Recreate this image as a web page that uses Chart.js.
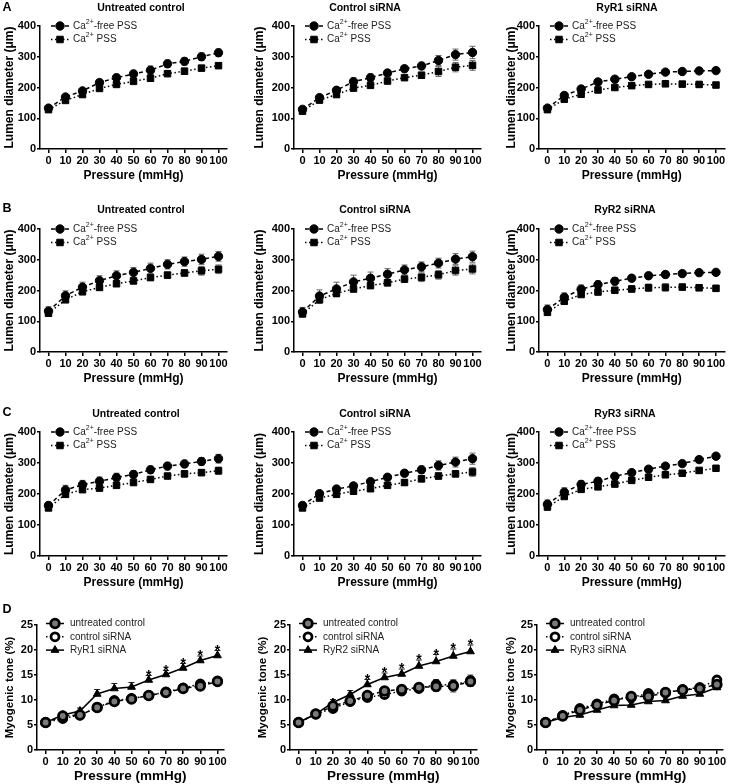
<!DOCTYPE html>
<html>
<head>
<meta charset="utf-8">
<script src="https://cdn.jsdelivr.net/npm/chart.js@4.4.1/dist/chart.umd.min.js"></script>
<style>
  body { margin: 0; background: #fff; }
  #fig { position: relative; width: 730px; height: 784px; overflow: hidden; font-family: "Liberation Sans", Arial, sans-serif; }
  #fig canvas { position: absolute; }
  .lbl { position: absolute; font-weight: bold; color: #000; white-space: nowrap; transform: translate(-50%, -50%); line-height: 1; }
</style>
</head>
<body>
<div id="fig"></div>
<script>
// x values and ticks
const pressure = [0, 10, 20, 30, 40, 50, 60, 70, 80, 90, 100];
const diameterTicks = [0, 100, 200, 300, 400];
const toneTicks = [0, 5, 10, 15, 20, 25];

// A: lumen diameter (um), Ca2+-free vs Ca2+ PSS
const aUntreatedFree = [133, 169, 189, 216, 232, 244, 256, 277, 285, 300, 313];
const aUntreatedFreeErr = [8, 8, 8, 10, 10, 12, 14, 12, 12, 12, 12];
const aUntreatedCa = [128, 158, 177, 197, 210, 220, 230, 245, 253, 263, 271];
const aUntreatedCaErr = [5, 5, 6, 6, 6, 6, 6, 8, 10, 8, 8];
const aControlFree = [129, 167, 191, 219, 232, 247, 261, 270, 288, 307, 314];
const aControlFreeErr = [8, 10, 10, 12, 12, 10, 10, 12, 16, 18, 20];
const aControlCa = [123, 159, 177, 198, 207, 221, 232, 240, 252, 266, 272];
const aControlCaErr = [6, 6, 6, 6, 6, 6, 6, 8, 16, 15, 16];
const aRyr1Free = [133, 174, 195, 218, 227, 235, 243, 250, 252, 254, 255];
const aRyr1FreeErr = [8, 10, 8, 6, 6, 6, 6, 6, 6, 8, 8];
const aRyr1Ca = [128, 162, 178, 192, 200, 206, 210, 212, 211, 210, 208];
const aRyr1CaErr = [6, 8, 6, 6, 6, 6, 6, 8, 8, 8, 8];

// B
const bUntreatedFree = [133, 183, 211, 232, 248, 259, 272, 285, 294, 301, 311];
const bUntreatedFreeErr = [14, 16, 16, 16, 16, 16, 17, 15, 15, 17, 16];
const bUntreatedCa = [126, 170, 196, 210, 222, 231, 242, 250, 257, 264, 269];
const bUntreatedCaErr = [8, 10, 10, 8, 8, 8, 8, 10, 10, 14, 14];
const bControlFree = [130, 182, 205, 228, 240, 253, 267, 277, 289, 302, 310];
const bControlFreeErr = [15, 20, 22, 22, 20, 18, 16, 16, 16, 18, 18];
const bControlCa = [124, 170, 191, 205, 216, 225, 237, 243, 251, 265, 270];
const bControlCaErr = [10, 12, 12, 10, 10, 10, 10, 14, 14, 15, 16];
const bRyr2Free = [138, 178, 204, 219, 230, 240, 248, 252, 255, 258, 259];
const bRyr2FreeErr = [15, 14, 14, 12, 12, 10, 10, 10, 10, 10, 10];
const bRyr2Ca = [129, 165, 187, 195, 201, 205, 209, 210, 211, 209, 207];
const bRyr2CaErr = [10, 10, 8, 8, 8, 10, 12, 12, 10, 10, 10];

// C
const cUntreatedFree = [163, 213, 230, 241, 253, 263, 278, 290, 297, 305, 314];
const cUntreatedFreeErr = [10, 15, 14, 14, 14, 12, 12, 12, 12, 12, 14];
const cUntreatedCa = [155, 199, 214, 219, 228, 237, 247, 258, 265, 269, 275];
const cUntreatedCaErr = [8, 8, 8, 8, 8, 8, 8, 8, 10, 10, 12];
const cControlFree = [163, 201, 216, 226, 240, 254, 267, 278, 292, 303, 314];
const cControlFreeErr = [10, 10, 10, 10, 8, 8, 10, 12, 15, 16, 18];
const cControlCa = [155, 187, 199, 209, 217, 228, 237, 249, 258, 265, 271];
const cControlCaErr = [8, 8, 8, 8, 8, 8, 8, 10, 10, 10, 14];
const cRyr3Free = [167, 206, 231, 241, 257, 269, 280, 290, 298, 311, 322];
const cRyr3FreeErr = [14, 14, 12, 12, 10, 8, 8, 8, 8, 8, 8];
const cRyr3Ca = [158, 192, 215, 223, 232, 244, 254, 262, 267, 276, 283];
const cRyr3CaErr = [10, 8, 8, 8, 8, 8, 8, 8, 8, 8, 8];

// D: myogenic tone (%)
const d1Untreated = [5.5, 6.8, 7.0, 8.5, 9.7, 10.2, 10.9, 11.5, 12.3, 12.8, 13.7];
const d1UntreatedErr = [0.3, 0.3, 0.3, 0.5, 0.5, 0.6, 0.5, 0.5, 0.5, 0.5, 0.5];
const d1Control = [5.5, 6.3, 7.0, 8.5, 9.9, 10.3, 10.9, 11.6, 12.4, 13.2, 13.8];
const d1ControlErr = [0.3, 0.3, 0.3, 0.5, 0.5, 0.6, 0.5, 0.5, 0.5, 0.5, 0.5];
const d1Ryr1 = [5.5, 7.0, 7.8, 11.2, 12.3, 12.6, 14.0, 15.1, 16.4, 17.9, 18.9];
const d1Ryr1Err = [0.3, 0.3, 0.6, 0.9, 1.0, 0.9, 0.9, 0.8, 0.9, 0.9, 1.0];
const d1Stars = [60, 70, 80, 90, 100];

const d2Untreated = [5.5, 7.2, 8.8, 9.8, 10.9, 11.8, 12.1, 12.5, 12.7, 12.8, 13.7];
const d2UntreatedErr = [0.3, 0.3, 0.5, 0.5, 0.8, 0.8, 0.8, 0.8, 1.0, 1.2, 1.0];
const d2Control = [5.5, 7.2, 8.3, 9.7, 10.5, 11.1, 11.8, 12.3, 13.1, 13.0, 13.9];
const d2ControlErr = [0.3, 0.3, 0.5, 0.5, 0.6, 0.8, 0.8, 0.8, 1.0, 1.0, 1.1];
const d2Ryr2 = [5.5, 7.2, 9.5, 11.1, 13.1, 14.5, 15.2, 16.8, 17.7, 18.8, 19.7];
const d2Ryr2Err = [0.3, 0.3, 0.6, 0.8, 1.0, 0.9, 1.0, 1.2, 1.4, 1.4, 1.3];
const d2Stars = [40, 50, 60, 70, 80, 90, 100];

const d3Untreated = [5.5, 6.8, 8.0, 9.0, 9.9, 10.7, 10.7, 11.5, 12.0, 12.3, 13.1];
const d3UntreatedErr = [0.3, 0.3, 0.4, 0.4, 0.4, 0.5, 0.6, 0.6, 0.6, 0.6, 0.6];
const d3Control = [5.5, 6.9, 8.3, 9.2, 10.2, 10.5, 11.3, 11.5, 12.1, 12.5, 14.0];
const d3ControlErr = [0.3, 0.3, 0.5, 0.4, 0.4, 0.5, 0.6, 0.6, 0.6, 0.6, 0.8];
const d3Ryr3 = [5.5, 6.5, 7.0, 8.0, 8.9, 9.0, 9.7, 9.9, 10.8, 11.2, 12.5];
const d3Ryr3Err = [0.3, 0.3, 0.4, 0.4, 0.5, 0.5, 0.5, 0.5, 0.5, 0.5, 0.5];

Chart.defaults.font.family = '"Liberation Sans", Arial, sans-serif';
Chart.defaults.color = '#000';

function pts(vals) {
  return vals.map((v, i) => ({ x: pressure[i], y: v }));
}

function baseSet(label, vals, err) {
  return {
    label, data: pts(vals), errors: err,
    borderColor: '#000', borderWidth: 1.5, tension: 0, fill: false,
    pointBorderColor: '#000', pointBackgroundColor: '#000', pointBorderWidth: 1
  };
}
function freeSet(vals, err) {
  return Object.assign(baseSet('Ca2+-free PSS', vals, err), { borderDash: [4, 3], pointStyle: 'circle', pointRadius: 4.2, errColor: '#666' });
}
function caSet(vals, err) {
  return Object.assign(baseSet('Ca2+ PSS', vals, err), { borderDash: [1.5, 2.5], pointStyle: 'rect', pointRadius: 4.6, errColor: '#666' });
}
function untreatedSet(vals, err) {
  return Object.assign(baseSet('untreated control', vals, err), { borderDash: [4, 3], pointStyle: 'circle', pointRadius: 4.3, pointBorderWidth: 2.8, pointBackgroundColor: '#7a7a7a', errColor: '#555' });
}
function controlSet(vals, err) {
  return Object.assign(baseSet('control siRNA', vals, err), { borderDash: [1.5, 2.5], pointStyle: 'circle', pointRadius: 4, pointBorderWidth: 2.8, pointBackgroundColor: '#fff', errColor: '#555' });
}
function ryrSet(label, vals, err, stars) {
  return Object.assign(baseSet(label, vals, err), { borderDash: [], pointStyle: 'triangle', pointRadius: 4.5, errUpOnly: true, errColor: '#222', stars });
}

// error bars under the markers
const errorBars = {
  id: 'errorBars',
  beforeDatasetsDraw(chart) {
    const { ctx, scales: { x, y } } = chart;
    chart.data.datasets.forEach(ds => {
      if (!ds.errors) return;
      ctx.save();
      ctx.strokeStyle = ds.errColor || '#555';
      ctx.lineWidth = 1;
      ds.data.forEach((p, j) => {
        const e = ds.errors[j];
        const px = x.getPixelForValue(p.x);
        const top = y.getPixelForValue(p.y + e);
        const bot = y.getPixelForValue(ds.errUpOnly ? p.y : p.y - e);
        ctx.beginPath();
        ctx.moveTo(px, top); ctx.lineTo(px, bot);
        ctx.moveTo(px - 3, top); ctx.lineTo(px + 3, top);
        if (!ds.errUpOnly) { ctx.moveTo(px - 3, bot); ctx.lineTo(px + 3, bot); }
        ctx.stroke();
      });
      ctx.restore();
    });
  }
};

// significance asterisks
const stars = {
  id: 'stars',
  afterDatasetsDraw(chart) {
    const { ctx, scales: { x, y } } = chart;
    chart.data.datasets.forEach(ds => {
      if (!ds.stars) return;
      ctx.save();
      ctx.fillStyle = '#000';
      ctx.font = 'bold 14px "Liberation Sans", Arial, sans-serif';
      ctx.textAlign = 'center';
      ctx.textBaseline = 'alphabetic';
      ds.stars.forEach(p => {
        const j = pressure.indexOf(p);
        const top = y.getPixelForValue(ds.data[j].y + ds.errors[j]);
        ctx.fillText('*', x.getPixelForValue(p), top + 4);
      });
      ctx.restore();
    });
  }
};

// legend with line sample + marker, like the original
const lineLegend = {
  id: 'lineLegend',
  afterDraw(chart, args, opts) {
    const { ctx, chartArea } = chart;
    chart.data.datasets.forEach((ds, i) => {
      const y = chartArea.top + opts.dy + i * opts.rowH;
      const mx = chartArea.left + opts.dx;
      ctx.save();
      ctx.strokeStyle = '#000';
      ctx.lineWidth = 1.5;
      ctx.setLineDash(ds.borderDash || []);
      ctx.beginPath();
      ctx.moveTo(mx - 9, y); ctx.lineTo(mx + 9, y);
      ctx.stroke();
      ctx.setLineDash([]);
      ctx.fillStyle = ds.pointBackgroundColor;
      ctx.strokeStyle = ds.pointBorderColor;
      ctx.lineWidth = ds.pointBorderWidth;
      Chart.helpers.drawPoint(ctx, { pointStyle: ds.pointStyle, radius: ds.pointRadius, borderWidth: ds.pointBorderWidth, rotation: 0 }, mx, y);

      ctx.fillStyle = '#222';
      ctx.textBaseline = 'middle';
      ctx.textAlign = 'left';
      let tx = chartArea.left + opts.textDx;
      const m = ds.label.match(/^Ca2\+(.*)$/);
      const big = '10px "Liberation Sans", Arial, sans-serif';
      if (m) {
        ctx.font = big;
        ctx.fillText('Ca', tx, y);
        tx += ctx.measureText('Ca').width;
        ctx.font = '7px "Liberation Sans", Arial, sans-serif';
        ctx.fillText('2+', tx, y - 4);
        tx += ctx.measureText('2+').width;
        ctx.font = big;
        ctx.fillText(m[1], tx, y);
      } else {
        ctx.font = big;
        ctx.fillText(ds.label, tx, y);
      }
      ctx.restore();
    });
  }
};

Chart.register(errorBars, stars, lineLegend);

const rowsGeom = [
  { top: 0, plotTop: 26, plotBottom: 149, xH: 34 },
  { top: 190, plotTop: 229, plotBottom: 352, xH: 34 },
  { top: 385, plotTop: 432, plotBottom: 556, xH: 34 },
  { top: 580, plotTop: 625, plotBottom: 750, xH: 34 }
];
const colsDiam = [
  { left: 2, axisX: 40, right: 245 },
  { left: 252, axisX: 294, right: 490 },
  { left: 504, axisX: 539, right: 730 }
];
const colsTone = [
  { left: 3, axisX: 37, right: 245 },
  { left: 256, axisX: 290, right: 490 },
  { left: 504, axisX: 537, right: 730 }
];

const panels = [
  { row: 0, col: 0, title: 'Untreated control', tx: 141, ty: 7, datasets: [freeSet(aUntreatedFree, aUntreatedFreeErr), caSet(aUntreatedCa, aUntreatedCaErr)] },
  { row: 0, col: 1, title: 'Control siRNA', tx: 365, ty: 7, datasets: [freeSet(aControlFree, aControlFreeErr), caSet(aControlCa, aControlCaErr)] },
  { row: 0, col: 2, title: 'RyR1 siRNA', tx: 627, ty: 7, datasets: [freeSet(aRyr1Free, aRyr1FreeErr), caSet(aRyr1Ca, aRyr1CaErr)] },
  { row: 1, col: 0, title: 'Untreated control', tx: 141, ty: 209, datasets: [freeSet(bUntreatedFree, bUntreatedFreeErr), caSet(bUntreatedCa, bUntreatedCaErr)] },
  { row: 1, col: 1, title: 'Control siRNA', tx: 375, ty: 209, datasets: [freeSet(bControlFree, bControlFreeErr), caSet(bControlCa, bControlCaErr)] },
  { row: 1, col: 2, title: 'RyR2 siRNA', tx: 625, ty: 209, datasets: [freeSet(bRyr2Free, bRyr2FreeErr), caSet(bRyr2Ca, bRyr2CaErr)] },
  { row: 2, col: 0, title: 'Untreated control', tx: 136, ty: 413, datasets: [freeSet(cUntreatedFree, cUntreatedFreeErr), caSet(cUntreatedCa, cUntreatedCaErr)] },
  { row: 2, col: 1, title: 'Control siRNA', tx: 375, ty: 413, datasets: [freeSet(cControlFree, cControlFreeErr), caSet(cControlCa, cControlCaErr)] },
  { row: 2, col: 2, title: 'RyR3 siRNA', tx: 625, ty: 413, datasets: [freeSet(cRyr3Free, cRyr3FreeErr), caSet(cRyr3Ca, cRyr3CaErr)] },
  { row: 3, col: 0, datasets: [untreatedSet(d1Untreated, d1UntreatedErr), controlSet(d1Control, d1ControlErr), ryrSet('RyR1 siRNA', d1Ryr1, d1Ryr1Err, d1Stars)] },
  { row: 3, col: 1, datasets: [untreatedSet(d2Untreated, d2UntreatedErr), controlSet(d2Control, d2ControlErr), ryrSet('RyR2 siRNA', d2Ryr2, d2Ryr2Err, d2Stars)] },
  { row: 3, col: 2, datasets: [untreatedSet(d3Untreated, d3UntreatedErr), controlSet(d3Control, d3ControlErr), ryrSet('RyR3 siRNA', d3Ryr3, d3Ryr3Err, null)] }
];

const panelLetters = [['A', 7, 7], ['B', 7, 208], ['C', 7, 412], ['D', 7, 609]];

const fig = document.getElementById('fig');

function addText(txt, x, y, size) {
  const d = document.createElement('div');
  d.className = 'lbl';
  d.textContent = txt;
  d.style.left = x + 'px';
  d.style.top = y + 'px';
  d.style.fontSize = size + 'px';
  fig.appendChild(d);
}

function makePanel(p) {
  const r = rowsGeom[p.row];
  const tone = p.row === 3;
  const c = (tone ? colsTone : colsDiam)[p.col];
  const xMax = tone ? 103.5 : 105;
  const plotW = tone ? 186.5 : 187;
  const w = c.right - c.left;
  const h = r.plotBottom + r.xH - r.top;

  const canvas = document.createElement('canvas');
  canvas.width = w;
  canvas.height = h;
  canvas.style.left = c.left + 'px';
  canvas.style.top = r.top + 'px';
  fig.appendChild(canvas);

  const axisStyle = (tickLen) => ({
    border: { display: true, color: '#000', width: 1.5 },
    grid: { display: true, drawOnChartArea: false, drawTicks: true, tickLength: tickLen, color: '#000', lineWidth: 1.5 }
  });

  new Chart(canvas, {
    type: 'line',
    data: { datasets: p.datasets },
    options: {
      responsive: false,
      animation: false,
      events: [],
      layout: { padding: { left: 0, right: c.right - c.axisX - plotW, top: r.plotTop - r.top, bottom: 0 } },
      plugins: {
        legend: { display: false },
        tooltip: { enabled: false },
        lineLegend: tone ? { dx: 18, textDx: 33, dy: -1.5, rowH: 13.3 } : { dx: 20, textDx: 33, dy: 0, rowH: 13.5 }
      },
      scales: {
        x: Object.assign(axisStyle(4), {
          type: 'linear', min: -5, max: xMax,
          afterBuildTicks: s => { s.ticks = pressure.map(v => ({ value: v })); },
          afterFit: s => { s.height = r.xH; },
          ticks: { color: '#000', font: { size: 11, weight: 'bold' }, padding: 1, maxRotation: 0, autoSkip: false },
          title: { display: true, text: 'Pressure (mmHg)', color: '#000', font: { size: tone ? 13.5 : 12, weight: 'bold' }, padding: 0 }
        }),
        y: Object.assign(axisStyle(3), {
          type: 'linear', min: 0, max: tone ? 25 : 400,
          afterBuildTicks: s => { s.ticks = (tone ? toneTicks : diameterTicks).map(v => ({ value: v })); },
          afterFit: s => { s.width = c.axisX - c.left; },
          ticks: { color: '#000', font: { size: 11, weight: 'bold' }, padding: 1 },
          title: { display: true, text: tone ? 'Myogenic tone (%)' : 'Lumen diameter (\u03bcm)', color: '#000', font: { size: tone ? 11.5 : 12, weight: 'bold' }, padding: 0 }
        })
      }
    }
  });

  if (p.title) addText(p.title, p.tx, p.ty, 10.5);
}

panels.forEach(makePanel);
panelLetters.forEach(([t, x, y]) => addText(t, x, y, 12.5));
</script>
</body>
</html>
